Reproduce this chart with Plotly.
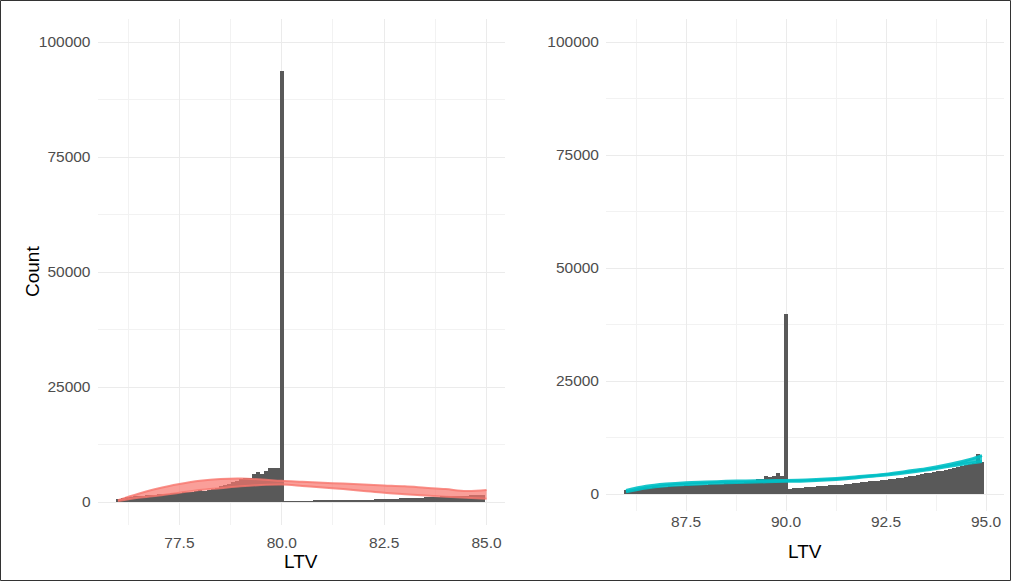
import plotly.graph_objects as go

# ---------------- data ----------------
# Left panel: LTV bins (centers, width 0.1) 76.0 .. 84.9
left_bins = [round(76.0 + 0.1 * i, 1) for i in range(90)]
left_counts = [
    600, 800, 1000, 1100, 1200, 1300, 1400, 1500, 1500, 1600,
    1700, 1700, 1800, 1900, 1900, 2000, 2100, 2100, 2200, 2400,
    2600, 2500, 2700, 2900, 3100, 3400, 3600, 3900, 4300, 4600,
    4900, 5200, 5300, 6000, 6500, 6000, 6800, 7300, 7300, 7400,
    93600, 150, 150, 150, 200, 200, 200, 200, 250, 250,
    250, 250, 300, 300, 300, 350, 350, 400, 400, 450,
    450, 500, 500, 550, 600, 650, 700, 700, 750, 800,
    800, 850, 900, 900, 950, 1000, 1050, 1100, 1150, 1200,
    1250, 1300, 1300, 1350, 1400, 1400, 1450, 1500, 1500, 1600,
]

# Right panel: LTV bins (centers, width 0.1) 86.0 .. 94.9
right_bins = [round(86.0 + 0.1 * i, 1) for i in range(90)]
right_counts = [
    700, 900, 1000, 1100, 1200, 1300, 1350, 1400, 1450, 1500,
    1550, 1600, 1650, 1700, 1750, 1800, 1850, 1900, 1900, 1950,
    2000, 2050, 2100, 2150, 2200, 2250, 2300, 2350, 2400, 2450,
    2500, 2700, 2900, 3200, 3300, 3800, 3700, 4000, 4600, 4000,
    39700, 1100, 1200, 1250, 1300, 1400, 1450, 1500, 1600, 1650,
    1700, 1800, 1850, 1900, 2000, 2100, 2200, 2300, 2400, 2500,
    2600, 2700, 2800, 2900, 3000, 3100, 3200, 3300, 3400, 3500,
    3700, 3800, 4000, 4100, 4300, 4500, 4600, 4800, 5000, 5100,
    5300, 5500, 5700, 5900, 6100, 6300, 6500, 6800, 8700, 7100,
]

# Smooth bands
left_smooth_x = [76.0, 76.5, 77.0, 77.5, 78.0, 78.5, 79.0, 79.5, 80.0, 80.5,
                 81.0, 81.5, 82.0, 82.5, 83.0, 83.5, 84.0, 84.5, 85.0]
left_upper = [400, 1800, 3000, 3900, 4600, 5000, 5100, 4900, 4600, 4400,
              4200, 4000, 3800, 3600, 3400, 3100, 2800, 2400, 2600]
left_lower = [200, 900, 1400, 2000, 2600, 3000, 3400, 3700, 3800, 3500,
              3150, 2800, 2400, 2000, 1700, 1400, 1150, 950, 700]

right_smooth_x = [86.0, 86.5, 87.0, 87.5, 88.0, 88.5, 89.0, 89.5, 90.0, 90.5,
                  91.0, 91.5, 92.0, 92.5, 93.0, 93.5, 94.0, 94.5, 94.9]
right_upper = [800, 1700, 2200, 2500, 2650, 2800, 2900, 2950, 3000, 3100,
               3300, 3600, 4000, 4400, 5000, 5600, 6400, 7400, 8500]
right_lower = [500, 1300, 1800, 2100, 2350, 2500, 2600, 2700, 2800, 2900,
               3100, 3400, 3800, 4200, 4700, 5300, 6000, 6700, 7200]

y_ticks = [0, 25000, 50000, 75000, 100000]
left_xticks = [77.5, 80.0, 82.5, 85.0]
right_xticks = [87.5, 90.0, 92.5, 95.0]

# ---------------- figure ----------------
W, H = 1011, 581
BAR = "#595959"
RED = "248,118,109"
CYAN = "0,191,196"
FONT = "Liberation Sans, Arial, sans-serif"

fig = go.Figure()

fig.add_trace(go.Bar(x=left_bins, y=left_counts, width=0.1, marker=dict(color=BAR, line=dict(width=0)),
                     xaxis="x", yaxis="y", showlegend=False, hoverinfo="skip"))
fig.add_trace(go.Bar(x=right_bins, y=right_counts, width=0.1, marker=dict(color=BAR, line=dict(width=0)),
                     xaxis="x2", yaxis="y2", showlegend=False, hoverinfo="skip"))

def band(xs, lo, up, rgb, ax, ay, lw, la, fa):
    fig.add_trace(go.Scatter(x=xs, y=lo, mode="lines", line=dict(color=f"rgba({rgb},{la})", width=lw, shape="spline"),
                             xaxis=ax, yaxis=ay, showlegend=False, hoverinfo="skip"))
    fig.add_trace(go.Scatter(x=xs, y=up, mode="lines", line=dict(color=f"rgba({rgb},{la})", width=lw, shape="spline"),
                             fill="tonexty", fillcolor=f"rgba({rgb},{fa})",
                             xaxis=ax, yaxis=ay, showlegend=False, hoverinfo="skip"))

band(left_smooth_x, left_lower, left_upper, RED, "x", "y", 2, 0.8, 0.7)
band(right_smooth_x, right_lower, right_upper, CYAN, "x2", "y2", 3, 0.9, 0.8)

# positions (pixels)
L = dict(x0=97.5, x1=505, top=19, bottom=525)
R = dict(x0=606, x1=1004, top=19.4, bottom=510.6)
# y-ranges keep the read scale: left 4.6 px / 1000, right 4.52 px / 1000
left_yrange = [-5000, 105000]
right_yrange = [-3670, 105000]

def xd(p):
    return [p["x0"] / W, p["x1"] / W]

def yd(p):
    return [(H - p["bottom"]) / H, (H - p["top"]) / H]

grid = dict(showgrid=True, gridcolor="#EBEBEB", gridwidth=1.1, zeroline=False,
            showline=False, ticks="", tickfont=dict(family=FONT, size=15.5, color="#4D4D4D"))
minor_x = dict(dtick=1.25, showgrid=True, gridcolor="#F2F2F2", gridwidth=0.6, ticks="")
minor_y = dict(dtick=12500, tick0=0, showgrid=True, gridcolor="#F2F2F2", gridwidth=0.6, ticks="")

fig.update_layout(
    width=W, height=H,
    margin=dict(l=0, r=0, t=0, b=0),
    paper_bgcolor="white", plot_bgcolor="white",
    bargap=0, barmode="overlay",
    font=dict(family=FONT, color="black"),
    xaxis=dict(domain=xd(L), range=[75.5, 85.45], tickvals=left_xticks, tickformat=".1f",
               minor=dict(tick0=77.5, **minor_x), anchor="y", ticklabelstandoff=6, **grid),
    yaxis=dict(domain=yd(L), range=left_yrange, tickvals=y_ticks, tickformat="d",
               minor=minor_y, anchor="x", ticklabelstandoff=6, **grid),
    xaxis2=dict(domain=xd(R), range=[85.5, 95.45], tickvals=right_xticks, tickformat=".1f",
                minor=dict(tick0=87.5, **minor_x), anchor="y2", ticklabelstandoff=0, **grid),
    yaxis2=dict(domain=yd(R), range=right_yrange, tickvals=y_ticks, tickformat="d",
                minor=minor_y, anchor="x2", ticklabelstandoff=6, **grid),
    shapes=[dict(type="rect", xref="paper", yref="paper", x0=0.5 / W, x1=1 - 0.5 / W,
                 y0=0.5 / H, y1=1 - 0.5 / H, line=dict(color="#333333", width=1))],
    annotations=[
        dict(text="Count", x=32 / W, y=(H - 272) / H, xref="paper", yref="paper", textangle=-90,
             showarrow=False, font=dict(family=FONT, size=19, color="black"), xanchor="center", yanchor="middle"),
        dict(text="LTV", x=301 / W, y=(H - 561) / H, xref="paper", yref="paper",
             showarrow=False, font=dict(family=FONT, size=19, color="black"), xanchor="center", yanchor="middle"),
        dict(text="LTV", x=805 / W, y=(H - 551) / H, xref="paper", yref="paper",
             showarrow=False, font=dict(family=FONT, size=19, color="black"), xanchor="center", yanchor="middle"),
    ],
)

fig.write_html("out.html")
